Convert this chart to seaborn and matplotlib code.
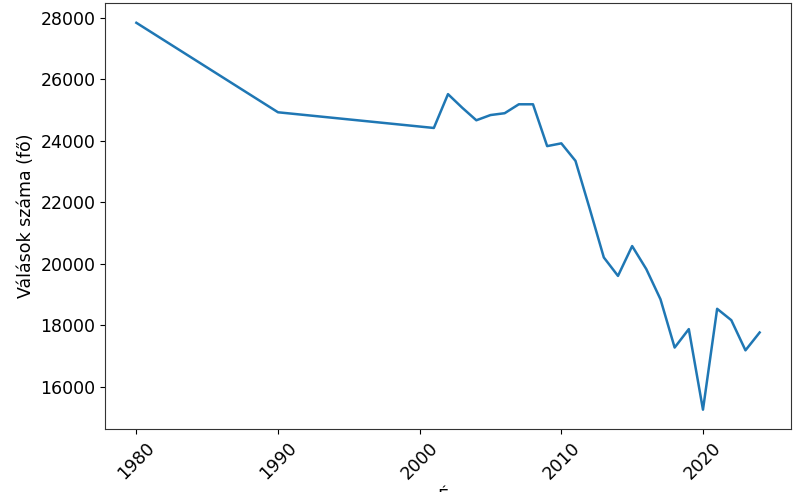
import matplotlib
matplotlib.use("Agg")
import matplotlib.pyplot as plt
import seaborn as sns
import pandas as pd

years = [1980, 1990, 2001, 2002, 2003, 2004, 2005, 2006, 2007, 2008, 2009, 2010,
         2011, 2012, 2013, 2014, 2015, 2016, 2017, 2018, 2019, 2020, 2021, 2022,
         2023, 2024]
divorces = [27840, 24930, 24420, 25520, 25080, 24670, 24840, 24900, 25190, 25190,
            23830, 23920, 23350, 21800, 20210, 19610, 20580, 19830, 18850, 17280,
            17880, 15260, 18540, 18170, 17190, 17770]
xticks = [1980, 1990, 2000, 2010, 2020]
yticks = [16000, 18000, 20000, 22000, 24000, 26000, 28000]

df = pd.DataFrame({"Év": years, "Válások száma (fő)": divorces})

plt.rcParams["font.family"] = ["DejaVu Sans"]
fig = plt.figure(figsize=(8, 4.92), dpi=100)
ax = fig.add_axes([0.1315, 0.128, 0.857, 0.865])
sns.lineplot(data=df, x="Év", y="Válások száma (fő)", ax=ax, color="#1f77b4", linewidth=1.8)
ax.set_xticks(xticks)
ax.set_yticks(yticks)
ax.tick_params(axis="both", labelsize=12.5)
plt.setp(ax.get_xticklabels(), rotation=45)
ax.set_xlabel("Év", fontsize=12.5, labelpad=4)
ax.set_ylabel("Válások száma (fő)", fontsize=12.5)
for s in ax.spines.values():
    s.set_color("#333333")
fig.savefig("out.png", dpi=100)
